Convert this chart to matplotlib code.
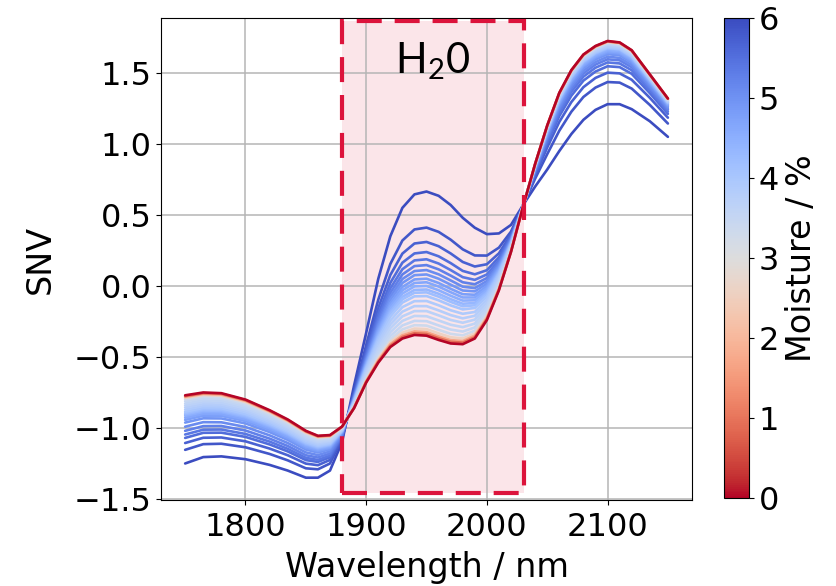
import matplotlib
matplotlib.use("Agg")
import matplotlib.pyplot as plt
from matplotlib.patches import Rectangle
from matplotlib.colors import Normalize
from matplotlib.cm import ScalarMappable

# ---------------- data ----------------
wavelength = [1750, 1765, 1780, 1800, 1820, 1835, 1850, 1860, 1870, 1880,
              1890, 1900, 1910, 1920, 1930, 1940, 1950, 1960, 1970, 1980,
              1990, 2000, 2010, 2020, 2030,
              2040, 2050, 2060, 2070, 2080, 2090, 2100, 2110, 2120, 2135, 2150]

moisture = [6.0, 5.85, 5.7, 5.55, 5.4, 5.25, 5.1, 4.95, 4.8, 4.65, 4.5, 4.35,
            4.2, 4.05, 3.9, 3.8, 3.7, 3.6, 3.5, 3.35, 2.6, 1.7, 0.9, 0.0]

snv = [
    [-1.250, -1.205, -1.200, -1.220, -1.260, -1.300, -1.350, -1.350, -1.300, -1.100,
     -0.700, -0.330, 0.050, 0.350, 0.550, 0.645, 0.665, 0.635, 0.570, 0.480, 0.410, 0.365, 0.370, 0.430, 0.570,
     0.700, 0.820, 0.950, 1.070, 1.170, 1.240, 1.280, 1.280, 1.245, 1.160, 1.050],
    [-1.154, -1.114, -1.111, -1.136, -1.183, -1.228, -1.284, -1.291, -1.250, -1.078,
     -0.740, -0.417, -0.097, 0.155, 0.320, 0.398, 0.411, 0.381, 0.326, 0.258, 0.215, 0.214, 0.270, 0.383, 0.568,
     0.756, 0.928, 1.093, 1.227, 1.331, 1.397, 1.436, 1.432, 1.390, 1.275, 1.144],
    [-1.106, -1.069, -1.067, -1.094, -1.145, -1.192, -1.251, -1.262, -1.225, -1.067,
     -0.756, -0.452, -0.156, 0.077, 0.228, 0.299, 0.310, 0.280, 0.229, 0.169, 0.137, 0.153, 0.230, 0.364, 0.567,
     0.780, 0.975, 1.155, 1.295, 1.400, 1.465, 1.502, 1.497, 1.452, 1.325, 1.185],
    [-1.070, -1.034, -1.033, -1.063, -1.116, -1.165, -1.226, -1.239, -1.206, -1.059,
     -0.767, -0.477, -0.198, 0.022, 0.164, 0.229, 0.239, 0.209, 0.161, 0.106, 0.082, 0.111, 0.202, 0.350, 0.566,
     0.796, 1.006, 1.196, 1.340, 1.446, 1.510, 1.547, 1.541, 1.494, 1.358, 1.212],
    [-1.046, -1.012, -1.011, -1.042, -1.096, -1.147, -1.210, -1.225, -1.194, -1.053,
     -0.775, -0.494, -0.227, -0.017, 0.118, 0.180, 0.188, 0.158, 0.112, 0.062, 0.043, 0.081, 0.182, 0.341, 0.565,
     0.806, 1.025, 1.221, 1.367, 1.474, 1.537, 1.574, 1.567, 1.519, 1.378, 1.228],
    [-1.020, -0.987, -0.986, -1.018, -1.075, -1.127, -1.192, -1.208, -1.180, -1.047,
     -0.782, -0.508, -0.251, -0.048, 0.081, 0.140, 0.147, 0.117, 0.073, 0.026, 0.012, 0.056, 0.166, 0.333, 0.565,
     0.814, 1.040, 1.241, 1.389, 1.497, 1.559, 1.596, 1.589, 1.540, 1.394, 1.242],
    [-0.991, -0.959, -0.960, -0.993, -1.052, -1.106, -1.172, -1.191, -1.165, -1.041,
     -0.787, -0.521, -0.272, -0.075, 0.049, 0.105, 0.112, 0.082, 0.039, -0.005, -0.015, 0.035, 0.152, 0.326, 0.565,
     0.820, 1.052, 1.257, 1.407, 1.515, 1.577, 1.614, 1.606, 1.556, 1.407, 1.252],
    [-0.962, -0.932, -0.933, -0.968, -1.029, -1.084, -1.152, -1.173, -1.150, -1.034,
     -0.792, -0.531, -0.289, -0.098, 0.021, 0.076, 0.081, 0.051, 0.009, -0.032, -0.038, 0.017, 0.140, 0.321, 0.564,
     0.826, 1.065, 1.274, 1.425, 1.533, 1.595, 1.632, 1.624, 1.573, 1.421, 1.263],
    [-0.943, -0.914, -0.915, -0.951, -1.014, -1.070, -1.139, -1.161, -1.140, -1.030,
     -0.797, -0.542, -0.307, -0.122, -0.007, 0.046, 0.051, 0.021, -0.020, -0.058, -0.062, -0.001, 0.128, 0.315, 0.564,
     0.831, 1.074, 1.286, 1.439, 1.547, 1.609, 1.645, 1.637, 1.585, 1.431, 1.271],
    [-0.928, -0.900, -0.902, -0.939, -1.002, -1.059, -1.129, -1.152, -1.133, -1.026,
     -0.801, -0.550, -0.322, -0.141, -0.030, 0.021, 0.026, -0.004, -0.044, -0.081, -0.081, -0.016, 0.118, 0.310, 0.564,
     0.834, 1.080, 1.294, 1.448, 1.556, 1.618, 1.654, 1.645, 1.594, 1.437, 1.277],
    [-0.914, -0.887, -0.889, -0.926, -0.991, -1.048, -1.119, -1.144, -1.125, -1.023,
     -0.805, -0.559, -0.336, -0.161, -0.053, -0.003, 0.000, -0.030, -0.069, -0.103, -0.101, -0.031, 0.108, 0.306, 0.563,
     0.838, 1.087, 1.303, 1.457, 1.566, 1.627, 1.663, 1.654, 1.602, 1.444, 1.282],
    [-0.904, -0.877, -0.880, -0.918, -0.983, -1.041, -1.112, -1.138, -1.120, -1.021,
     -0.809, -0.568, -0.351, -0.180, -0.076, -0.028, -0.025, -0.055, -0.093, -0.125, -0.120, -0.046, 0.098, 0.301, 0.563,
     0.841, 1.093, 1.311, 1.466, 1.575, 1.636, 1.672, 1.663, 1.610, 1.450, 1.288],
    [-0.895, -0.868, -0.871, -0.909, -0.975, -1.034, -1.106, -1.132, -1.115, -1.019,
     -0.812, -0.575, -0.363, -0.196, -0.094, -0.048, -0.045, -0.075, -0.112, -0.143, -0.136, -0.058, 0.090, 0.297, 0.563,
     0.842, 1.096, 1.315, 1.470, 1.579, 1.640, 1.676, 1.667, 1.614, 1.454, 1.290],
    [-0.885, -0.859, -0.862, -0.901, -0.967, -1.026, -1.099, -1.126, -1.110, -1.016,
     -0.816, -0.584, -0.378, -0.215, -0.117, -0.073, -0.071, -0.101, -0.137, -0.165, -0.155, -0.074, 0.080, 0.292, 0.563,
     0.844, 1.099, 1.319, 1.475, 1.584, 1.645, 1.680, 1.671, 1.618, 1.457, 1.293],
    [-0.871, -0.846, -0.848, -0.888, -0.956, -1.016, -1.089, -1.117, -1.103, -1.013,
     -0.822, -0.596, -0.398, -0.243, -0.149, -0.107, -0.106, -0.136, -0.171, -0.196, -0.183, -0.095, 0.066, 0.286, 0.562,
     0.846, 1.104, 1.325, 1.482, 1.591, 1.652, 1.687, 1.678, 1.625, 1.462, 1.297],
    [-0.856, -0.832, -0.835, -0.876, -0.944, -1.005, -1.079, -1.108, -1.095, -1.010,
     -0.827, -0.608, -0.419, -0.270, -0.181, -0.142, -0.142, -0.172, -0.205, -0.228, -0.210, -0.116, 0.052, 0.279, 0.562,
     0.849, 1.108, 1.331, 1.488, 1.598, 1.658, 1.694, 1.685, 1.631, 1.467, 1.301],
    [-0.842, -0.818, -0.822, -0.863, -0.933, -0.994, -1.070, -1.099, -1.088, -1.007,
     -0.833, -0.620, -0.440, -0.297, -0.214, -0.177, -0.177, -0.207, -0.239, -0.259, -0.237, -0.137, 0.038, 0.272, 0.562,
     0.851, 1.113, 1.337, 1.495, 1.605, 1.665, 1.701, 1.691, 1.637, 1.472, 1.305],
    [-0.828, -0.805, -0.808, -0.850, -0.921, -0.983, -1.060, -1.090, -1.080, -1.003,
     -0.838, -0.633, -0.460, -0.325, -0.246, -0.211, -0.213, -0.243, -0.273, -0.290, -0.265, -0.158, 0.024, 0.266, 0.561,
     0.853, 1.116, 1.342, 1.500, 1.609, 1.670, 1.705, 1.695, 1.641, 1.475, 1.308],
    [-0.813, -0.791, -0.795, -0.838, -0.910, -0.972, -1.050, -1.082, -1.073, -1.000,
     -0.844, -0.645, -0.481, -0.352, -0.278, -0.246, -0.248, -0.278, -0.307, -0.321, -0.292, -0.179, 0.010, 0.259, 0.561,
     0.854, 1.119, 1.346, 1.504, 1.614, 1.674, 1.709, 1.700, 1.645, 1.478, 1.311],
    [-0.801, -0.780, -0.784, -0.827, -0.900, -0.963, -1.041, -1.074, -1.066, -0.997,
     -0.849, -0.655, -0.499, -0.375, -0.306, -0.276, -0.279, -0.309, -0.337, -0.348, -0.315, -0.198, -0.002, 0.253, 0.561,
     0.856, 1.122, 1.350, 1.509, 1.618, 1.679, 1.714, 1.704, 1.650, 1.482, 1.313],
    [-0.789, -0.768, -0.773, -0.817, -0.890, -0.954, -1.033, -1.067, -1.060, -0.994,
     -0.853, -0.664, -0.513, -0.395, -0.329, -0.300, -0.304, -0.334, -0.361, -0.370, -0.335, -0.213, -0.012, 0.249, 0.560,
     0.858, 1.125, 1.354, 1.513, 1.623, 1.683, 1.718, 1.708, 1.654, 1.485, 1.316],
    [-0.781, -0.760, -0.765, -0.809, -0.883, -0.948, -1.027, -1.061, -1.056, -0.992,
     -0.856, -0.671, -0.525, -0.410, -0.347, -0.320, -0.325, -0.355, -0.381, -0.388, -0.350, -0.225, -0.020, 0.245, 0.560,
     0.859, 1.128, 1.357, 1.516, 1.626, 1.686, 1.721, 1.712, 1.657, 1.487, 1.318],
    [-0.775, -0.755, -0.759, -0.804, -0.879, -0.944, -1.023, -1.058, -1.052, -0.991,
     -0.858, -0.676, -0.533, -0.421, -0.359, -0.333, -0.338, -0.368, -0.393, -0.399, -0.361, -0.233, -0.025, 0.242, 0.560,
     0.859, 1.129, 1.358, 1.518, 1.628, 1.688, 1.723, 1.713, 1.658, 1.489, 1.319],
    [-0.770, -0.750, -0.755, -0.800, -0.875, -0.940, -1.020, -1.055, -1.050, -0.990,
     -0.860, -0.680, -0.540, -0.430, -0.370, -0.345, -0.350, -0.380, -0.405, -0.410, -0.370, -0.240, -0.030, 0.240, 0.560,
     0.860, 1.130, 1.360, 1.520, 1.630, 1.690, 1.725, 1.715, 1.660, 1.490, 1.320],
]

x_ticks = [1800, 1900, 2000, 2100]
y_ticks = [-1.5, -1.0, -0.5, 0.0, 0.5, 1.0, 1.5]
cbar_ticks = [0, 1, 2, 3, 4, 5, 6]
water_band = (1880, 2031)          # highlighted H2O region (nm)
water_band_y = (-1.46, 1.868)
band_label = r"H$_2$0"

# ---------------- style ----------------
plt.rcParams["font.family"] = ["DejaVu Sans"]
plt.rcParams["mathtext.fontset"] = "custom"
plt.rcParams["mathtext.rm"] = "Lato"
FS_TICK = 23
FS_LABEL = 24

fig = plt.figure(figsize=(8.36, 5.86), dpi=100)
ax = fig.add_axes([0.1926, 0.1468, 0.6352, 0.8225])
cax = fig.add_axes([0.866, 0.150, 0.030, 0.819])

cmap = plt.get_cmap("coolwarm_r")
norm = Normalize(vmin=0, vmax=6)

ax.grid(True, color="#b5b5b5", linewidth=1.1, zorder=0)
ax.set_axisbelow(True)

# shaded water band (fill below curves)
ax.add_patch(Rectangle((water_band[0], water_band_y[0]),
                       water_band[1] - water_band[0], water_band_y[1] - water_band_y[0],
                       facecolor="#dc143c", alpha=0.11, edgecolor="none", zorder=0.5))

for m, spec in zip(moisture, snv):
    ax.plot(wavelength, spec, color=cmap(norm(m)), linewidth=1.9, zorder=2,
            solid_joinstyle="round", solid_capstyle="round")

# dashed outline on top
ax.add_patch(Rectangle((water_band[0], water_band_y[0]),
                       water_band[1] - water_band[0], water_band_y[1] - water_band_y[0],
                       facecolor="none", edgecolor="#dc143c", linewidth=3,
                       linestyle=(0, (6, 3.1)), zorder=4))

ax.text(1955, 1.50, band_label, ha="center", va="baseline", fontsize=30,
        family="Lato", zorder=5)

ax.set_xlim(1730, 2170)
ax.set_ylim(-1.507, 1.887)
ax.set_xticks(x_ticks)
ax.set_yticks(y_ticks)
ax.tick_params(labelsize=FS_TICK)
ax.tick_params(axis="x", pad=5)
ax.set_xlabel("Wavelength / nm", fontsize=FS_LABEL, labelpad=6)
ax.set_ylabel("SNV", fontsize=FS_LABEL, labelpad=12)

sm = ScalarMappable(norm=norm, cmap=cmap)
cb = fig.colorbar(sm, cax=cax, ticks=cbar_ticks)
cb.ax.tick_params(labelsize=FS_TICK)
cb.set_label("Moisture / %", fontsize=FS_LABEL)

fig.savefig("out.png", dpi=100)
